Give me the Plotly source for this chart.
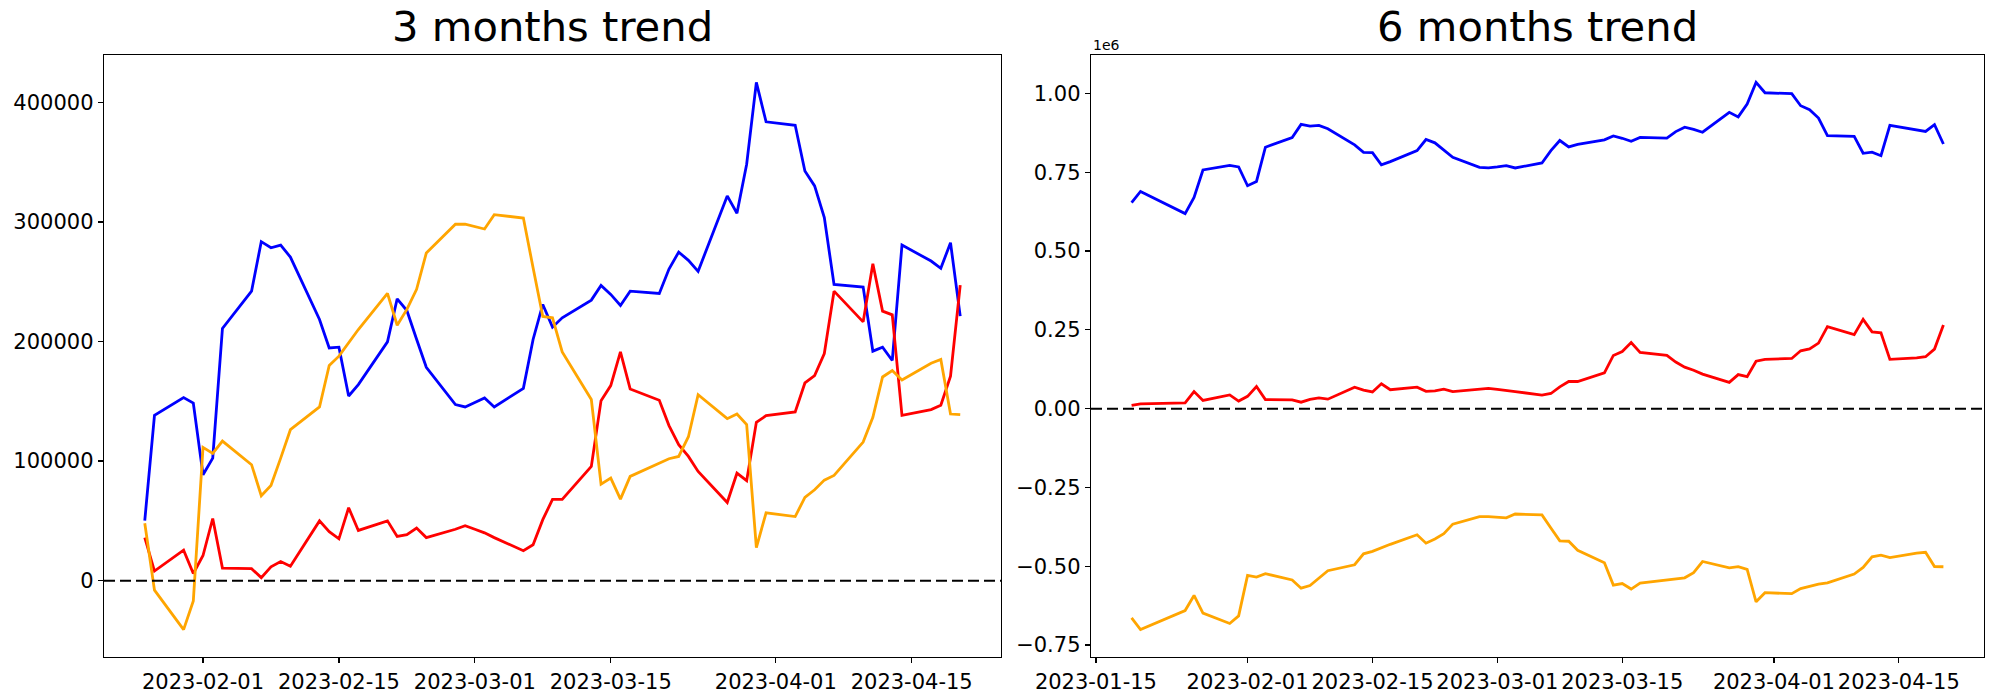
import pandas as pd
import plotly.graph_objects as go

# ---------------- data ----------------
dates_3m = list(pd.bdate_range("2023-01-26", "2023-04-20").strftime("%Y-%m-%d"))
dates_6m = ["2023-01-19", "2023-01-20", "2023-01-25"] + dates_3m

blue_3m = [50300, 138300,
           153100, 148600, 88600, 102500, 211000,
           242200, 283600, 278500, 280800, 270700,
           218500, 194700, 195300, 154500, 164000,
           199800, 235800, 226000, 202000, 178500,
           147300, 145300, 149000, 152800, 145300,
           160900, 201800, 231100, 212100, 219900,
           234700, 247000, 239500, 230200, 242200,
           240300, 260700, 274900, 268000, 258800,
           321900, 307400, 348400, 416900, 383900,
           381000, 342800, 330300, 303700, 247800,
           245600, 192000, 195300, 184200, 280800,
           267400, 261300, 282700, 221300]

red_3m = [36000, 8000,
          25500, 6000, 21000, 52000, 10500,
          10000, 2500, 11500, 16000, 12000,
          50000, 41000, 35000, 61000, 42000,
          50000, 37000, 38500, 44000, 36000,
          43000, 46000, 43000, 40000, 36000,
          25000, 30000, 51000, 68000, 68000,
          95600, 150600, 163200, 191400, 160400,
          150900, 129700, 113700, 103900, 91400,
          65400, 89900, 83600, 132400, 138000,
          141100, 165400, 171600, 190000, 242200,
          216500, 265100, 225500, 222400, 138300,
          143100, 146700, 171000, 247300]

orange_3m = [48000, -8000,
             -41000, -17000, 111500, 106400, 116800,
             97000, 71000, 79600, 102500, 126300,
             145300, 180000, 187800, 199500, 210100,
             240300, 213700, 226900, 243700, 274100,
             298200, 298200, 296100, 294200, 306200,
             303400, 261800, 221000, 219900, 191400,
             151500, 80700, 85800, 68200, 87200,
             98300, 102000, 103900, 120400, 155600,
             135500, 139400, 130500, 27700, 56700,
             53600, 69600, 76000, 84100, 88000,
             115900, 136600, 170400, 175800, 167900,
             181900, 185000, 139400, 138900]

blue_6m = [653700, 688800, 618600,
           669600, 757000,
           771700, 766600, 707000, 720700, 829100,
           860000, 901500, 896000, 898300, 887700,
           836700, 813100, 812200, 773000, 783500,
           818600, 853600, 843100, 820800, 797200,
           765300, 763400, 766600, 770700, 763400,
           779300, 818600, 850500, 830100, 837900,
           852700, 865000, 857500, 848200, 860200,
           858300, 878700, 892900, 886000, 876800,
           939900, 925400, 966400, 1034900, 1001900,
           999000, 960800, 948300, 921700, 865800,
           863600, 810000, 813300, 802200, 898800,
           885400, 879300, 900700, 839300]

red_6m = [10000, 15000, 18000,
          54000, 26000,
          43500, 24000, 39000, 70000, 28500,
          28000, 20500, 29500, 34000, 30000,
          68000, 59000, 53000, 79000, 60000,
          68000, 55000, 56500, 62000, 54000,
          61000, 64000, 61000, 58000, 54000,
          43000, 48000, 69000, 86000, 86000,
          113600, 168600, 181200, 209400, 178400,
          168900, 147700, 131700, 121900, 109400,
          83400, 107900, 101600, 150400, 156000,
          159100, 183400, 189600, 208000, 260200,
          234500, 283100, 243500, 240400, 156300,
          161100, 164700, 189000, 265300]

orange_6m = [-664000, -701000, -640500,
             -592500, -648500,
             -681500, -657500, -529000, -534100, -523700,
             -543500, -569500, -560900, -538000, -514200,
             -495200, -460500, -452700, -441000, -430400,
             -400200, -426800, -413600, -396800, -366400,
             -342300, -342300, -344400, -346300, -334300,
             -337100, -378700, -419500, -420600, -449100,
             -489000, -559800, -554700, -572300, -553300,
             -542200, -538500, -536600, -520100, -484900,
             -505000, -501100, -510000, -612800, -583800,
             -586900, -570900, -564500, -556400, -552500,
             -524600, -503900, -470100, -464700, -472600,
             -458600, -455500, -501100, -501600]

titles = ["3 months trend", "6 months trend"]
xticks_3m = ["2023-02-01", "2023-02-15", "2023-03-01", "2023-03-15", "2023-04-01", "2023-04-15"]
xticks_6m = ["2023-01-15"] + xticks_3m
yticks_3m = [0, 100000, 200000, 300000, 400000]
ytext_3m = ["0", "100000", "200000", "300000", "400000"]
yticks_6m = [-750000, -500000, -250000, 0, 250000, 500000, 750000, 1000000]
ytext_6m = ["\u22120.75", "\u22120.50", "\u22120.25", "0.00", "0.25", "0.50", "0.75", "1.00"]

# ---------------- figure ----------------
W, H = 2000, 700
FONT = "DejaVu Sans"
colors = {"blue": "#0000ff", "red": "#ff0000", "orange": "#ffa500"}
LW = 2.8

fig = go.Figure()
for name, ys in [("blue", blue_3m), ("red", red_3m), ("orange", orange_3m)]:
    fig.add_trace(go.Scatter(x=dates_3m, y=ys, mode="lines", line=dict(color=colors[name], width=LW),
                             xaxis="x", yaxis="y", showlegend=False, hoverinfo="skip"))
for name, ys in [("blue", blue_6m), ("red", red_6m), ("orange", orange_6m)]:
    fig.add_trace(go.Scatter(x=dates_6m, y=ys, mode="lines", line=dict(color=colors[name], width=LW),
                             xaxis="x2", yaxis="y2", showlegend=False, hoverinfo="skip"))


def xrange(dates):
    d = pd.to_datetime(dates)
    span = d.max() - d.min()
    return [(d.min() - 0.05 * span).isoformat(), (d.max() + 0.05 * span).isoformat()]


def yrange(*series):
    lo = min(min(s) for s in series)
    hi = max(max(s) for s in series)
    pad = 0.05 * (hi - lo)
    return [lo - pad, hi + pad]


def px_x(p):
    return p / W


def px_y(p):
    return 1 - p / H


axis_common = dict(showline=True, linecolor="black", linewidth=1.3, mirror=True,
                   ticks="outside", ticklen=5, tickwidth=1.3, tickcolor="black",
                   showgrid=False, zeroline=False, automargin=False,
                   tickfont=dict(family=FONT, size=21, color="black"))

top, bottom = 55, 657
ydom = [px_y(bottom), px_y(top)]
x1dom = [px_x(104), px_x(1001)]
x2dom = [px_x(1091), px_x(1984)]

fig.update_layout(
    width=W, height=H,
    margin=dict(l=0, r=0, t=0, b=0),
    paper_bgcolor="white", plot_bgcolor="white",
    font=dict(family=FONT, color="black"),
    hovermode=False,
    xaxis=dict(domain=x1dom, type="date", range=xrange(dates_3m), anchor="y",
               tickvals=xticks_3m, ticktext=xticks_3m, **axis_common),
    yaxis=dict(domain=ydom, range=yrange(blue_3m, red_3m, orange_3m), anchor="x",
               tickvals=yticks_3m, ticktext=ytext_3m, **axis_common),
    xaxis2=dict(domain=x2dom, type="date", range=xrange(dates_6m), anchor="y2",
                tickvals=xticks_6m, ticktext=xticks_6m, **axis_common),
    yaxis2=dict(domain=ydom, range=yrange(blue_6m, red_6m, orange_6m), anchor="x2",
                tickvals=yticks_6m, ticktext=ytext_6m, **axis_common),
)

# zero reference lines
for xr, yr in [("x domain", "y"), ("x2 domain", "y2")]:
    fig.add_shape(type="line", xref=xr, yref=yr, x0=0, x1=1, y0=0, y1=0,
                  line=dict(color="black", width=2, dash="11px,5px"), layer="above")

# titles
for dom, t in [(x1dom, titles[0]), (x2dom, titles[1])]:
    fig.add_annotation(x=(dom[0] + dom[1]) / 2, y=px_y(top - 2), xref="paper", yref="paper",
                       text=t, showarrow=False, xanchor="center", yanchor="bottom",
                       font=dict(family=FONT, size=41.7, color="black"))

# offset text for the right axis
fig.add_annotation(x=x2dom[0], y=px_y(top), xref="paper", yref="paper", text="1e6",
                   showarrow=False, xanchor="left", yanchor="bottom",
                   font=dict(family=FONT, size=14, color="black"))

fig.write_html("out.html",
               config={"displayModeBar": False, "staticPlot": True},
               post_script="document.body.style.margin='0px';document.body.style.overflow='hidden';")
